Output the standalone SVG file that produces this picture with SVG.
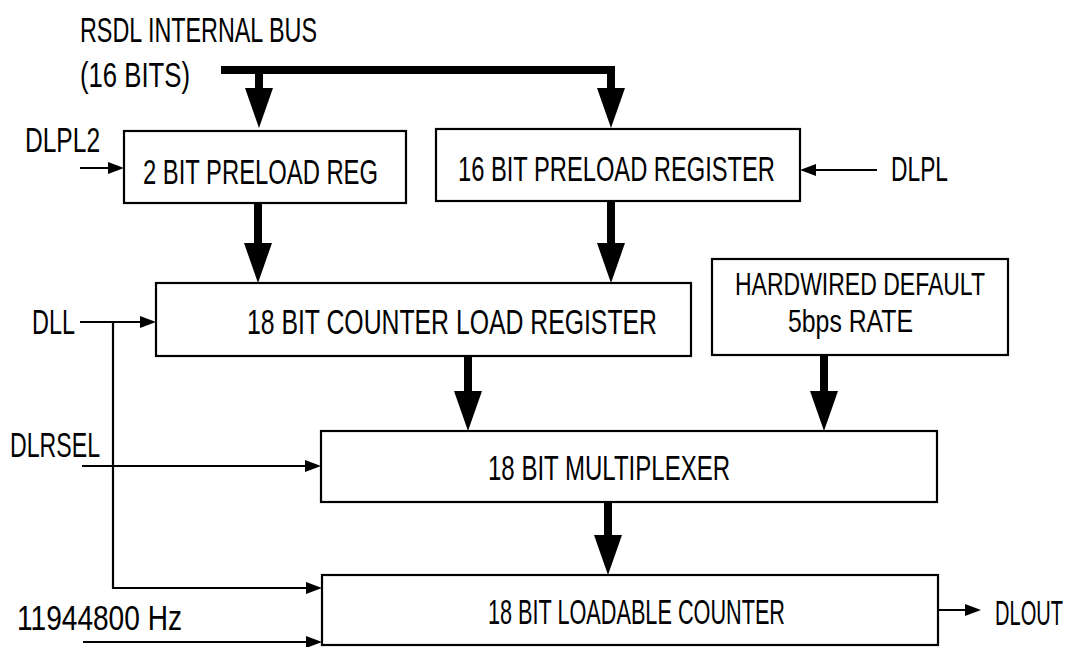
<svg xmlns="http://www.w3.org/2000/svg" width="1075" height="647" viewBox="0 0 1075 647">
<style>
  .box { fill: #fff; stroke: #000; stroke-width: 2.2; }
  .t { font-family: "Liberation Sans", Arial, sans-serif; font-size: 36px; fill: #000; }
  .t2 { font-family: "Liberation Sans", Arial, sans-serif; font-size: 32px; fill: #000; }
  .thin { fill: none; stroke: #000; stroke-width: 2.2; }
  .thick { fill: none; stroke: #000; stroke-width: 8; }
</style>
<defs>
  <marker id="sa" markerUnits="userSpaceOnUse" markerWidth="18" markerHeight="12" refX="12" refY="6" orient="auto">
    <path d="M0,0 L16,6 L0,12 z" fill="#000"/>
  </marker>
  <marker id="ba" markerUnits="userSpaceOnUse" markerWidth="42" markerHeight="28" refX="10" refY="14" orient="auto">
    <path d="M0,0 L40,14 L0,28 z" fill="#000"/>
  </marker>
</defs>

<g id="bus-label">
  <text class="t" transform="translate(80,42) scale(0.78,1)" textLength="303.8" lengthAdjust="spacingAndGlyphs">RSDL INTERNAL BUS</text>
  <text class="t" transform="translate(80,87) scale(0.78,1)" textLength="141" lengthAdjust="spacingAndGlyphs">(16 BITS)</text>
</g>

<g id="connectors">
  <path class="thick" d="M221,70 H611 V98" marker-end="url(#ba)"/>
  <path class="thick" d="M259,70 V98" marker-end="url(#ba)"/>
  <path class="thick" d="M258,203 V253" marker-end="url(#ba)"/>
  <path class="thick" d="M611,201 V253" marker-end="url(#ba)"/>
  <path class="thick" d="M468,356 V401" marker-end="url(#ba)"/>
  <path class="thick" d="M824,355 V401" marker-end="url(#ba)"/>
  <path class="thick" d="M608,502 V545" marker-end="url(#ba)"/>
  <path class="thin" d="M80,168 H120" marker-end="url(#sa)"/>
  <path class="thin" d="M877,170 H804" marker-end="url(#sa)"/>
  <path class="thin" d="M80,322 H152" marker-end="url(#sa)"/>
  <path class="thin" d="M113,322 V588 H318" marker-end="url(#sa)"/>
  <path class="thin" d="M82,466 H317" marker-end="url(#sa)"/>
  <path class="thin" d="M83,642 H318" marker-end="url(#sa)"/>
  <path class="thin" d="M938,610 H977" marker-end="url(#sa)"/>
</g>

<g id="dlpl2"><text class="t" transform="translate(25,152) scale(0.78,1)" textLength="96.2" lengthAdjust="spacingAndGlyphs">DLPL2</text></g>
<g id="dlpl"><text class="t" transform="translate(891,181) scale(0.78,1)" textLength="73.1" lengthAdjust="spacingAndGlyphs">DLPL</text></g>
<g id="dll"><text class="t" transform="translate(32,334) scale(0.78,1)" textLength="55.1" lengthAdjust="spacingAndGlyphs">DLL</text></g>
<g id="dlrsel"><text class="t" transform="translate(10,457) scale(0.78,1)" textLength="115.4" lengthAdjust="spacingAndGlyphs">DLRSEL</text></g>
<g id="clock"><text class="t" transform="translate(17,630) scale(0.78,1)" textLength="211.5" lengthAdjust="spacingAndGlyphs">11944800 Hz</text></g>
<g id="dlout"><text class="t" transform="translate(995,625) scale(0.6,1)" textLength="113.3" lengthAdjust="spacingAndGlyphs">DLOUT</text></g>

<g id="preload2">
  <rect class="box" x="124" y="131" width="282" height="72"/>
  <text class="t" transform="translate(143,184) scale(0.78,1)" textLength="301.3" lengthAdjust="spacingAndGlyphs">2 BIT PRELOAD REG</text>
</g>
<g id="preload16">
  <rect class="box" x="436" y="129" width="364" height="72"/>
  <text class="t" transform="translate(458,181) scale(0.78,1)" textLength="406.4" lengthAdjust="spacingAndGlyphs">16 BIT PRELOAD REGISTER</text>
</g>
<g id="counterload">
  <rect class="box" x="156" y="283" width="535" height="73"/>
  <text class="t" transform="translate(247,334) scale(0.78,1)" textLength="525.6" lengthAdjust="spacingAndGlyphs">18 BIT COUNTER LOAD REGISTER</text>
</g>
<g id="hardwired">
  <rect class="box" x="712" y="259" width="296" height="96"/>
  <text class="t2" transform="translate(735,295) scale(0.78,1)" textLength="320.5" lengthAdjust="spacingAndGlyphs">HARDWIRED DEFAULT</text>
  <text class="t2" transform="translate(788,332) scale(0.78,1)" textLength="160.3" lengthAdjust="spacingAndGlyphs">5bps RATE</text>
</g>
<g id="mux">
  <rect class="box" x="321" y="431" width="616" height="71"/>
  <text class="t" transform="translate(488,480) scale(0.78,1)" textLength="310.3" lengthAdjust="spacingAndGlyphs">18 BIT MULTIPLEXER</text>
</g>
<g id="counter">
  <rect class="box" x="322" y="575" width="616" height="70"/>
  <text class="t" transform="translate(488,624) scale(0.78,1)" textLength="380.8" lengthAdjust="spacingAndGlyphs">18 BIT LOADABLE COUNTER</text>
</g>
</svg>
